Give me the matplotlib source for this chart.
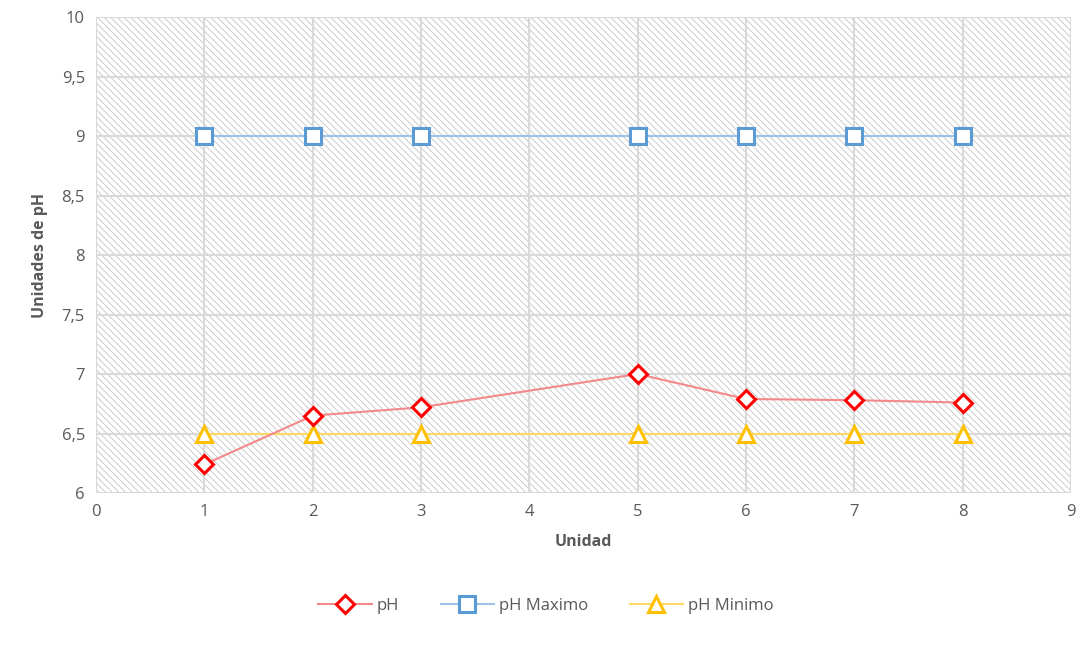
import numpy as np
import matplotlib
matplotlib.use('Agg')
import matplotlib.pyplot as plt
from matplotlib.patches import Rectangle
from matplotlib.ticker import FuncFormatter

unidad = [1, 2, 3, 5, 6, 7, 8]
ph = [6.24, 6.65, 6.72, 7.0, 6.79, 6.78, 6.76]
ph_max = [9, 9, 9, 9, 9, 9, 9]
ph_min = [6.5, 6.5, 6.5, 6.5, 6.5, 6.5, 6.5]

plt.rcParams['font.family'] = ['Open Sans', 'DejaVu Sans']
plt.rcParams['hatch.linewidth'] = 0.6

fig = plt.figure(figsize=(10.81, 6.47), dpi=100)
ax = fig.add_axes([0.0888, 0.238, 0.902, 0.7357])

ax.set_xlim(0, 9)
ax.set_ylim(6, 10)
# fondo rayado del área de trazado
ax.add_patch(Rectangle((0, 6), 9, 4, facecolor='white', edgecolor='#c4c4c4',
                       hatch='\\' * 5, linewidth=0, zorder=0))

ax.plot(unidad, ph, color='#f4898a', lw=1.5, marker='D', ms=9,
        mfc='white', mec='#ff0000', mew=2.2, label='pH', zorder=4)
ax.plot(unidad, ph_max, color='#9dc3e6', lw=1.5, marker='s', ms=11,
        mfc='white', mec='#5b9bd5', mew=2.2, label='pH Maximo', zorder=3)
ax.plot(unidad, ph_min, color='#ffd966', lw=1.5, marker='^', ms=11,
        mfc='white', mec='#ffc000', mew=2.2, label='pH Minimo', zorder=3)

ax.set_xticks(range(0, 10))
ax.set_yticks(np.arange(6, 10.01, 0.5))
ax.yaxis.set_major_formatter(FuncFormatter(lambda v, p: f"{v:g}".replace('.', ',')))
ax.grid(True, color='#d9d9d9', lw=1.5, zorder=1)
ax.set_axisbelow(True)
for s in ax.spines.values():
    s.set_visible(False)
ax.tick_params(length=0, labelsize=12, labelcolor='#595959', pad=8)

ax.set_xlabel('Unidad', fontsize=11.5, fontweight='bold', color='#595959', labelpad=10)
ax.set_ylabel('Unidades de pH', fontsize=11.5, fontweight='bold', color='#595959', labelpad=10)

leg = fig.legend(loc='upper center', bbox_to_anchor=(0.505, 0.099), ncol=3,
                 frameon=False, fontsize=12, handlelength=3.2,
                 handletextpad=0.3, columnspacing=2.5)
for t in leg.get_texts():
    t.set_color('#595959')

fig.savefig('out.png', dpi=100)
